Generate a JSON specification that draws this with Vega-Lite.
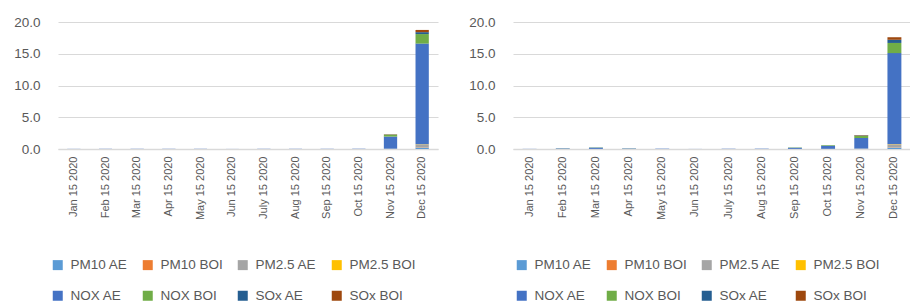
{
  "$schema": "https://vega.github.io/schema/vega-lite/v6.json",
  "padding": {"left": 13, "top": 15, "right": 0, "bottom": 0},
  "background": "white",
  "config": {
    "view": {"stroke": null},
    "font": "Liberation Sans",
    "axis": {"labelColor": "#595959", "titleColor": "#595959"},
    "legend": {"labelColor": "#595959"}
  },
  "datasets": {
    "d": [
      {"p":"A","m":"Jan 15 2020","s":"NOX AE","v":0.02},
      {"p":"A","m":"Feb 15 2020","s":"NOX AE","v":0.03},
      {"p":"A","m":"Mar 15 2020","s":"NOX AE","v":0.03},
      {"p":"A","m":"Apr 15 2020","s":"NOX AE","v":0.03},
      {"p":"A","m":"May 15 2020","s":"NOX AE","v":0.03},
      {"p":"A","m":"Jun 15 2020","s":"NOX AE","v":0.01},
      {"p":"A","m":"July 15 2020","s":"NOX AE","v":0.03},
      {"p":"A","m":"Aug 15 2020","s":"NOX AE","v":0.03},
      {"p":"A","m":"Sep 15 2020","s":"NOX AE","v":0.03},
      {"p":"A","m":"Oct 15 2020","s":"NOX AE","v":0.04},
      {"p":"A","m":"Nov 15 2020","s":"PM10 AE","v":0.02},
      {"p":"A","m":"Nov 15 2020","s":"PM2.5 AE","v":0.04},
      {"p":"A","m":"Nov 15 2020","s":"NOX AE","v":1.9},
      {"p":"A","m":"Nov 15 2020","s":"NOX BOI","v":0.3},
      {"p":"A","m":"Nov 15 2020","s":"SOx AE","v":0.03},
      {"p":"A","m":"Nov 15 2020","s":"SOx BOI","v":0.04},
      {"p":"A","m":"Dec 15 2020","s":"PM10 AE","v":0.2},
      {"p":"A","m":"Dec 15 2020","s":"PM10 BOI","v":0.05},
      {"p":"A","m":"Dec 15 2020","s":"PM2.5 AE","v":0.45},
      {"p":"A","m":"Dec 15 2020","s":"PM2.5 BOI","v":0.05},
      {"p":"A","m":"Dec 15 2020","s":"NOX AE","v":15.85},
      {"p":"A","m":"Dec 15 2020","s":"NOX BOI","v":1.5},
      {"p":"A","m":"Dec 15 2020","s":"SOx AE","v":0.3},
      {"p":"A","m":"Dec 15 2020","s":"SOx BOI","v":0.35},
      {"p":"B","m":"Jan 15 2020","s":"NOX AE","v":0.02},
      {"p":"B","m":"Feb 15 2020","s":"NOX AE","v":0.08},
      {"p":"B","m":"Feb 15 2020","s":"NOX BOI","v":0.02},
      {"p":"B","m":"Mar 15 2020","s":"PM2.5 AE","v":0.02},
      {"p":"B","m":"Mar 15 2020","s":"NOX AE","v":0.2},
      {"p":"B","m":"Mar 15 2020","s":"NOX BOI","v":0.04},
      {"p":"B","m":"Apr 15 2020","s":"NOX AE","v":0.07},
      {"p":"B","m":"Apr 15 2020","s":"NOX BOI","v":0.02},
      {"p":"B","m":"May 15 2020","s":"NOX AE","v":0.05},
      {"p":"B","m":"Jun 15 2020","s":"NOX AE","v":0.01},
      {"p":"B","m":"July 15 2020","s":"NOX AE","v":0.05},
      {"p":"B","m":"Aug 15 2020","s":"NOX AE","v":0.05},
      {"p":"B","m":"Sep 15 2020","s":"PM2.5 AE","v":0.02},
      {"p":"B","m":"Sep 15 2020","s":"NOX AE","v":0.18},
      {"p":"B","m":"Sep 15 2020","s":"NOX BOI","v":0.05},
      {"p":"B","m":"Oct 15 2020","s":"PM2.5 AE","v":0.03},
      {"p":"B","m":"Oct 15 2020","s":"NOX AE","v":0.45},
      {"p":"B","m":"Oct 15 2020","s":"NOX BOI","v":0.1},
      {"p":"B","m":"Oct 15 2020","s":"SOx AE","v":0.02},
      {"p":"B","m":"Nov 15 2020","s":"PM10 AE","v":0.03},
      {"p":"B","m":"Nov 15 2020","s":"PM2.5 AE","v":0.05},
      {"p":"B","m":"Nov 15 2020","s":"NOX AE","v":1.65},
      {"p":"B","m":"Nov 15 2020","s":"NOX BOI","v":0.35},
      {"p":"B","m":"Nov 15 2020","s":"SOx AE","v":0.06},
      {"p":"B","m":"Nov 15 2020","s":"SOx BOI","v":0.06},
      {"p":"B","m":"Dec 15 2020","s":"PM10 AE","v":0.2},
      {"p":"B","m":"Dec 15 2020","s":"PM10 BOI","v":0.05},
      {"p":"B","m":"Dec 15 2020","s":"PM2.5 AE","v":0.5},
      {"p":"B","m":"Dec 15 2020","s":"PM2.5 BOI","v":0.05},
      {"p":"B","m":"Dec 15 2020","s":"NOX AE","v":14.3},
      {"p":"B","m":"Dec 15 2020","s":"NOX BOI","v":1.6},
      {"p":"B","m":"Dec 15 2020","s":"SOx AE","v":0.5},
      {"p":"B","m":"Dec 15 2020","s":"SOx BOI","v":0.4}
    ]
  },
  "spacing": 30,
  "resolve": {"legend": {"color": "independent"}},
  "hconcat": [
    {
      "data": {"name": "d"},
      "transform": [
        {"filter": "datum.p == 'A'"},
        {"stack": "v", "groupby": ["m"], "as": ["v0", "v1"]}
      ],
      "width": 380,
      "height": 127,
      "mark": {"type": "bar"},
      "encoding": {
        "x": {"field": "m", "type": "nominal",
          "sort": ["Jan 15 2020","Feb 15 2020","Mar 15 2020","Apr 15 2020","May 15 2020","Jun 15 2020","July 15 2020","Aug 15 2020","Sep 15 2020","Oct 15 2020","Nov 15 2020","Dec 15 2020"],
          "scale": {"paddingInner": 0.58, "paddingOuter": 0.29},
          "axis": {"title": null, "labelAngle": -90, "labelFontSize": 11, "ticks": false, "domainColor": "#D9D9D9", "domainWidth": 1.5, "labelPadding": 7}},
        "y": {"field": "v0", "type": "quantitative",
          "scale": {"domain": [0, 20]},
          "axis": {"title": null, "values": [0,5,10,15,20], "format": ".1f", "labelFontSize": 13.5, "ticks": false, "domain": false, "gridColor": "#D9D9D9", "gridWidth": 1, "labelPadding": 18}},
        "y2": {"field": "v1"},
        "color": {"field": "s", "type": "nominal",
          "scale": {"domain": ["PM10 AE","PM10 BOI","PM2.5 AE","PM2.5 BOI","NOX AE","NOX BOI","SOx AE","SOx BOI"],
                    "range": ["#5B9BD5","#ED7D31","#A5A5A5","#FFC000","#4472C4","#70AD47","#255E91","#9E480E"]},
          "legend": {"title": null, "orient": "none", "legendX": -7, "legendY": 236, "direction": "horizontal", "columns": 4, "symbolType": "square", "symbolSize": 100, "symbolStrokeWidth": 0, "labelFontSize": 13.5, "labelOffset": 6, "columnPadding": 13, "rowPadding": 16}}
      }
    },
    {
      "data": {"name": "d"},
      "transform": [
        {"filter": "datum.p == 'B'"},
        {"stack": "v", "groupby": ["m"], "as": ["v0", "v1"]}
      ],
      "width": 398,
      "height": 127,
      "mark": {"type": "bar"},
      "encoding": {
        "x": {"field": "m", "type": "nominal",
          "sort": ["Jan 15 2020","Feb 15 2020","Mar 15 2020","Apr 15 2020","May 15 2020","Jun 15 2020","July 15 2020","Aug 15 2020","Sep 15 2020","Oct 15 2020","Nov 15 2020","Dec 15 2020"],
          "scale": {"paddingInner": 0.58, "paddingOuter": 0.29},
          "axis": {"title": null, "labelAngle": -90, "labelFontSize": 11, "ticks": false, "domainColor": "#D9D9D9", "domainWidth": 1.5, "labelPadding": 7}},
        "y": {"field": "v0", "type": "quantitative",
          "scale": {"domain": [0, 20]},
          "axis": {"title": null, "values": [0,5,10,15,20], "format": ".1f", "labelFontSize": 13.5, "ticks": false, "domain": false, "gridColor": "#D9D9D9", "gridWidth": 1, "labelPadding": 18}},
        "y2": {"field": "v1"},
        "color": {"field": "s", "type": "nominal",
          "scale": {"domain": ["PM10 AE","PM10 BOI","PM2.5 AE","PM2.5 BOI","NOX AE","NOX BOI","SOx AE","SOx BOI"],
                    "range": ["#5B9BD5","#ED7D31","#A5A5A5","#FFC000","#4472C4","#70AD47","#255E91","#9E480E"]},
          "legend": {"title": null, "orient": "none", "legendX": 2, "legendY": 236, "direction": "horizontal", "columns": 4, "symbolType": "square", "symbolSize": 100, "symbolStrokeWidth": 0, "labelFontSize": 13.5, "labelOffset": 6, "columnPadding": 13, "rowPadding": 16}}
      }
    }
  ]
}
